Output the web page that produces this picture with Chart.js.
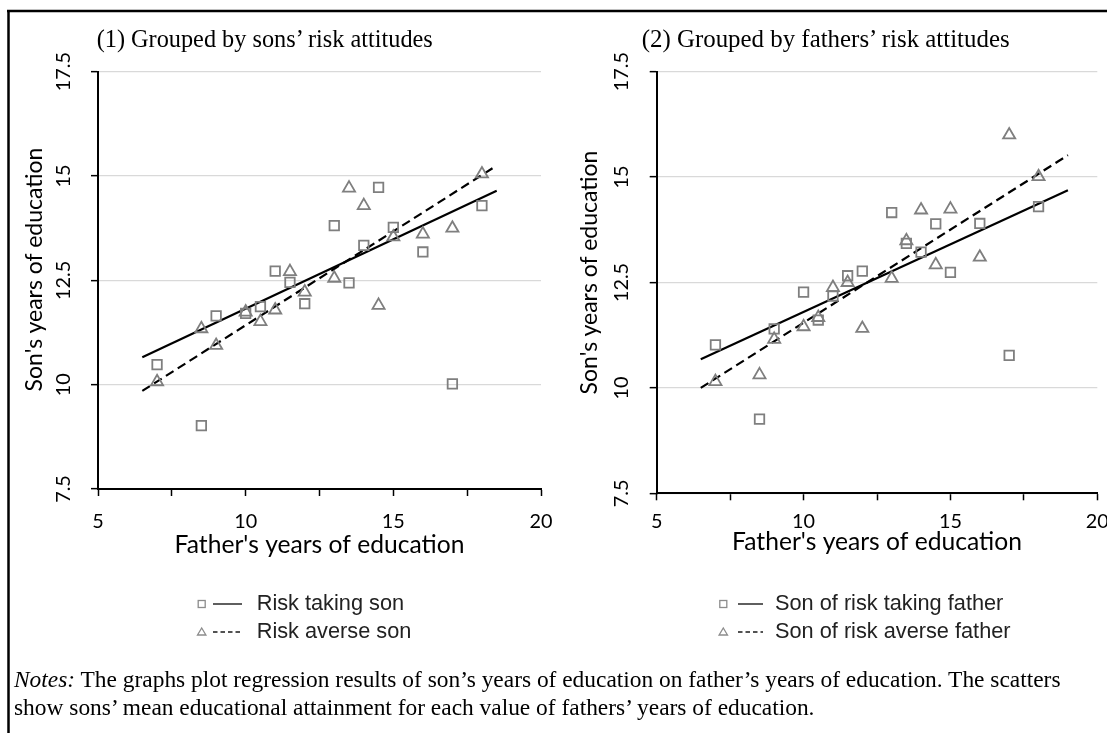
<!DOCTYPE html>
<html><head><meta charset="utf-8"><title>Son's vs father's years of education</title>
<script src="https://cdn.jsdelivr.net/npm/chart.js@4.4.1/dist/chart.umd.min.js"></script>
<style>
html,body{margin:0;padding:0;background:#fff;}
body{width:1107px;height:733px;overflow:hidden;position:relative;}
canvas{position:absolute;top:0;}
#c1{left:0;} #c2{left:560px;}
#ov{position:absolute;left:0;top:0;pointer-events:none;}
</style></head><body>
<canvas id="c1" width="560" height="560"></canvas>
<canvas id="c2" width="560" height="560"></canvas>
<svg id="ov" width="1107" height="733" xmlns="http://www.w3.org/2000/svg">
  <line x1="7" y1="11" x2="1107" y2="11" stroke="#000" stroke-width="2.5"/>
  <line x1="8.5" y1="10" x2="8.5" y2="733" stroke="#000" stroke-width="2.5"/>
  <text id="t1" x="96.7" y="47" font-family="Liberation Serif" fill="#000">(1) Grouped by sons’ risk attitudes</text>
  <text id="t2" x="641.7" y="47" font-family="Liberation Serif" fill="#000">(2) Grouped by fathers’ risk attitudes</text>

  <text id="yt1" transform="translate(32.5,269.5) rotate(-90)" text-anchor="middle" dominant-baseline="central" font-family="Lato" fill="#000">Son's years of education</text>
  <text id="yt2" transform="translate(587.5,272.5) rotate(-90)" text-anchor="middle" dominant-baseline="central" font-family="Lato" fill="#000">Son's years of education</text>

  <rect x="198.2" y="600.5" width="7" height="7" fill="none" stroke="#8c8c8c" stroke-width="1.3"/>
  <line x1="213" y1="604" x2="242" y2="604" stroke="#1a1a1a" stroke-width="1.4"/>
  <text id="l1" x="256.7" y="609.5" font-family="Liberation Sans" fill="#222">Risk taking son</text>
  <polygon points="201.7,628 205.9,635 197.5,635" fill="none" stroke="#8c8c8c" stroke-width="1.3"/>
  <line x1="213" y1="632" x2="242" y2="632" stroke="#1a1a1a" stroke-width="1.4" stroke-dasharray="4.5 3"/>
  <text id="l2" x="256.7" y="637.5" font-family="Liberation Sans" fill="#222">Risk averse son</text>

  <rect x="719.8" y="600.5" width="7" height="7" fill="none" stroke="#8c8c8c" stroke-width="1.3"/>
  <line x1="738" y1="604" x2="763" y2="604" stroke="#1a1a1a" stroke-width="1.4"/>
  <text id="l3" x="775" y="609.5" font-family="Liberation Sans" fill="#222">Son of risk taking father</text>
  <polygon points="723.3,628 727.5,635 719.1,635" fill="none" stroke="#8c8c8c" stroke-width="1.3"/>
  <line x1="738" y1="632" x2="763" y2="632" stroke="#1a1a1a" stroke-width="1.4" stroke-dasharray="4.5 3"/>
  <text id="l4" x="775" y="637.5" font-family="Liberation Sans" fill="#222">Son of risk averse father</text>

  <text id="n1" x="14" y="687" font-family="Liberation Serif" fill="#000"><tspan font-style="italic">Notes:</tspan> The graphs plot regression results of son’s years of education on father’s years of education. The scatters</text>
  <text id="n2" x="14" y="715" font-family="Liberation Serif" fill="#000">show sons’ mean educational attainment for each value of fathers’ years of education.</text>
</svg>
<script>
// ---------- data ----------
const xTicks = [5, 7.5, 10, 12.5, 15, 17.5, 20];
const xLabels = ['5', '', '10', '', '15', '', '20'];
const yTicks = [7.5, 10, 12.5, 15, 17.5];
const yLabels = ['7.5', '10', '12.5', '15', '17.5'];

const fatherEdu = [7, 8.5, 9, 10, 10.5, 11, 11.5, 12, 13, 13.5, 14, 14.5, 15, 16, 17, 18];

// Panel (1): grouped by sons' risk attitudes
const riskTakingSon = [10.48, 9.02, 11.65, 11.71, 11.87, 12.72, 12.45, 11.94, 13.81, 12.44, 13.34, 14.73, 13.77, 13.18, 10.02, 14.29];
const riskAverseSon = [10.07, 11.34, 10.94, 11.74, 11.51, 11.79, 12.71, 12.22, 12.55, 14.71, 14.29, 11.90, 13.54, 13.61, 13.75, 15.05];
const fitX1 = [6.5, 18.5];
const fitTakingSon = [10.66, 14.65];
const fitAverseSon = [9.85, 15.25];

// Panel (2): grouped by fathers' risk attitudes
const sonOfTakingFather = [11.02, 9.26, 11.40, 12.27, 11.61, 12.18, 12.66, 12.77, 14.16, 13.43, 13.22, 13.89, 12.74, 13.90, 10.77, 14.30];
const sonOfAverseFather = [10.15, 10.31, 11.15, 11.45, 11.67, 12.38, 12.50, 11.41, 12.60, 13.49, 14.22, 12.92, 14.24, 13.10, 16.00, 15.01];
const fitX2 = [6.5, 19];
const fitTakingFather = [10.68, 14.69];
const fitAverseFather = [10.0, 15.52];

// ---------- text sizing ----------
const mctx = document.createElement('canvas').getContext('2d');
function textW(text, font) { mctx.font = font; return mctx.measureText(text).width; }
function fitSize(text, family, target, style) {
  return 100 * target / textW(text, (style || '') + ' 100px ' + family);
}
const SANS = 'Lato';
const tickSize = fitSize('15', SANS, 23);
const yTitleSize = fitSize("Son's years of education", SANS, 245);
const xTitleSize = fitSize("Father's years of education", SANS, 290);
const w175 = textW('17.5', tickSize + 'px ' + SANS);

function setSize(id, text, family, target) {
  const s = fitSize(text, family, target);
  document.getElementById(id).setAttribute('font-size', s.toFixed(2));
  return s;
}
setSize('t1', '(1) Grouped by sons’ risk attitudes', '"Liberation Serif"', 338);
setSize('t2', '(2) Grouped by fathers’ risk attitudes', '"Liberation Serif"', 370);
['yt1','yt2'].forEach(id => document.getElementById(id).setAttribute('font-size', yTitleSize.toFixed(2)));
const legS = (fitSize('Risk averse son', '"Liberation Sans"', 155) + fitSize('Son of risk averse father', '"Liberation Sans"', 235)) / 2;
['l1','l2','l3','l4'].forEach(id => document.getElementById(id).setAttribute('font-size', legS.toFixed(2)));
(function(){
  const rest = ' The graphs plot regression results of son’s years of education on father’s years of education. The scatters';
  const w = textW('Notes:', 'italic 100px "Liberation Serif"') + textW(rest, '100px "Liberation Serif"');
  const s = 100 * 1048 / w;
  document.getElementById('n1').setAttribute('font-size', s.toFixed(2));
  document.getElementById('n2').setAttribute('font-size', s.toFixed(2));
})();

// ---------- charts ----------
const pts = (xs, ys) => xs.map((x, i) => ({x: x, y: ys[i]}));
const markerColor = '#7f7f7f';

function buildChart(canvasId, p, sets) {
  const lh = 1.2;
  return new Chart(document.getElementById(canvasId), {
    type: 'scatter',
    data: {
      datasets: [
        { label: sets.names[0], data: pts(fatherEdu, sets.a), pointStyle: 'rect', pointRadius: 6.7,
          borderColor: markerColor, backgroundColor: 'rgba(0,0,0,0)', borderWidth: 1.8, showLine: false },
        { label: sets.names[1], data: pts(fatherEdu, sets.b), pointStyle: 'triangle', pointRadius: 7,
          borderColor: markerColor, backgroundColor: 'rgba(0,0,0,0)', borderWidth: 1.8, showLine: false },
        { label: sets.names[0] + ' fit', data: pts(sets.fx, sets.fa), showLine: true, pointRadius: 0,
          borderColor: '#000', borderWidth: 2.2, fill: false },
        { label: sets.names[1] + ' fit', data: pts(sets.fx, sets.fb), showLine: true, pointRadius: 0,
          borderColor: '#000', borderWidth: 2.2, borderDash: [9, 5], fill: false }
      ]
    },
    options: {
      responsive: false, animation: false, devicePixelRatio: 1,
      layout: { padding: { left: 0, top: p.top, right: p.right, bottom: 0 } },
      plugins: { legend: { display: false }, tooltip: { enabled: false }, title: { display: false } },
      scales: {
        x: {
          type: 'linear', position: 'bottom', min: 5, max: 20,
          afterBuildTicks: s => { s.ticks = xTicks.map(v => ({ value: v })); },
          afterFit: s => { s.height = p.xh; s.paddingLeft = 0; s.paddingRight = 0; },
          ticks: { autoSkip: false, maxRotation: 0, minRotation: 0, padding: p.xpad, color: '#000',
                   font: { family: SANS, size: tickSize, lineHeight: lh },
                   callback: (v, i) => xLabels[i] },
          grid: { drawOnChartArea: false, drawTicks: true, tickLength: 7, tickColor: '#000', tickWidth: 1.5 },
          border: { display: true, color: '#000', width: 2 },
          title: { display: true, text: "Father's years of education", color: '#000',
                   font: { family: SANS, size: xTitleSize, lineHeight: lh },
                   padding: { top: 0, bottom: p.xTitleBottom - xTitleSize * lh / 2 } }
        },
        y: {
          type: 'linear', position: 'left', min: 7.5, max: 17.5,
          afterBuildTicks: s => { s.ticks = yTicks.map(v => ({ value: v })); },
          afterFit: s => { s.width = p.yw; s.paddingTop = 0; s.paddingBottom = 0; },
          ticks: { minRotation: 90, maxRotation: 90, crossAlign: 'center', color: '#000',
                   padding: p.yw - 7 - w175 / 2 - p.yLabelX,
                   font: { family: SANS, size: tickSize, lineHeight: lh },
                   callback: (v, i) => yLabels[i] },
          grid: { color: '#d9d9d9', lineWidth: 1.3, drawTicks: true, tickLength: 7, tickColor: '#000', tickWidth: 1.5 },
          border: { display: true, color: '#000', width: 2 },
          title: { display: false }
        }
      }
    }
  });
}

// left panel: plot area 98..541 x 71.7..489
buildChart('c1', { top: 71.7, right: 560 - 541, xh: 560 - 489, yw: 98,
  xpad: 522 - 489 - 7 - tickSize * 1.2 / 2, xTitleBottom: 560 - 545,
  yLabelX: 64 },
  { names: ['Risk taking son', 'Risk averse son'], a: riskTakingSon, b: riskAverseSon,
    fx: fitX1, fa: fitTakingSon, fb: fitAverseSon });

// right panel: plot area 656.7..1097.3 x 71.7..493.3 (canvas starts at 560)
buildChart('c2', { top: 71.7, right: 560 - 537.3, xh: 560 - 493.3, yw: 96.7,
  xpad: 522 - 493.3 - 7 - tickSize * 1.2 / 2, xTitleBottom: 560 - 542,
  yLabelX: 62 },
  { names: ['Son of risk taking father', 'Son of risk averse father'], a: sonOfTakingFather, b: sonOfAverseFather,
    fx: fitX2, fa: fitTakingFather, fb: fitAverseFather });
</script>
</body></html>
